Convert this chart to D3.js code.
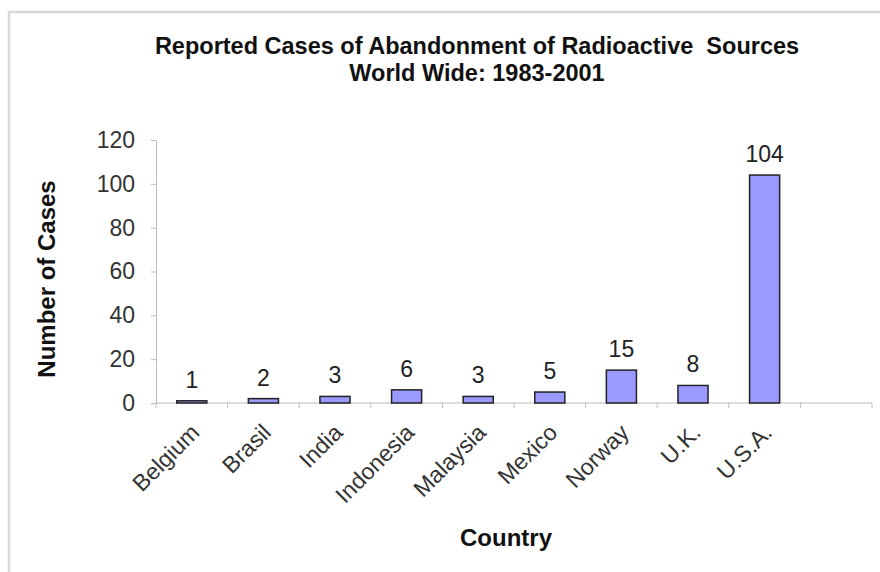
<!DOCTYPE html>
<html><head><meta charset="utf-8">
<script src="https://cdn.jsdelivr.net/npm/d3@7"></script>
<style>body{margin:0;background:#fff;}</style>
</head><body>
<script>
const categories = ["Belgium","Brasil","India","Indonesia","Malaysia","Mexico","Norway","U.K.","U.S.A.",""];
const values = [1,2,3,6,3,5,15,8,104];
const yTicks = [0,20,40,60,80,100,120];
const titleLines = ["Reported Cases of Abandonment of Radioactive  Sources","World Wide: 1983-2001"];

const W=880,H=572;
const svg=d3.select("body").append("svg").attr("width",W).attr("height",H);
svg.append("rect").attr("x",9).attr("y",12).attr("width",W).attr("height",H).attr("fill","#fff").attr("stroke","#d8d8d8").attr("stroke-width",2.5);

const x=d3.scaleBand().domain(categories.map((c,i)=>i)).range([156,872]).paddingInner(0.58).paddingOuter(0.29);
const xb=d3.scaleBand().domain(categories.map((c,i)=>i)).range([156,872]);
const y=d3.scaleLinear().domain([0,120]).range([403,140]);
const font="Liberation Sans, Arial, sans-serif";

svg.selectAll(".t").data(titleLines).enter().append("text")
 .attr("x",477).attr("y",(d,i)=>54+i*27).attr("text-anchor","middle")
 .attr("font-family",font).attr("font-weight","bold").attr("font-size",23.5).attr("fill","#111")
 .attr("xml:space","preserve").text(d=>d);

// y axis
const ya=svg.append("g").attr("transform","translate(156,0)").call(d3.axisLeft(y).tickValues(yTicks).tickSize(5).tickPadding(16));
ya.select(".domain").attr("stroke","#bbb");
ya.selectAll("line").attr("stroke","#bbb");
ya.selectAll("text").attr("font-family",font).attr("font-size",23).attr("fill","#333");

// x axis
const xa=svg.append("g").attr("transform","translate(0,403)");
xa.append("line").attr("x1",156).attr("x2",872).attr("stroke","#bbb");
xa.selectAll(".tk").data(categories.map((c,i)=>i).concat([categories.length])).enter().append("line")
 .attr("x1",d=>156+d*xb.bandwidth()).attr("x2",d=>156+d*xb.bandwidth()).attr("y1",0).attr("y2",5).attr("stroke","#bbb");
xa.selectAll(".lb").data(categories).enter().append("text")
 .attr("transform",(d,i)=>`translate(${xb(i)+xb.bandwidth()/2+9},${31}) rotate(-45)`)
 .attr("text-anchor","end").attr("font-family",font).attr("font-size",23).attr("fill","#333").text(d=>d);

// bars
svg.selectAll(".bar").data(values).enter().append("rect")
 .attr("x",(d,i)=>x(i)).attr("width",x.bandwidth())
 .attr("y",d=>y(d)).attr("height",d=>y(0)-y(d))
 .attr("fill","#9999ff").attr("stroke","#222").attr("stroke-width",1.5);

svg.selectAll(".vl").data(values).enter().append("text")
 .attr("x",(d,i)=>x(i)+x.bandwidth()/2).attr("y",d=>y(d)-13).attr("text-anchor","middle")
 .attr("font-family",font).attr("font-size",23).attr("fill","#222").text(d=>d);

svg.append("text").attr("transform","translate(55,279) rotate(-90)").attr("text-anchor","middle")
 .attr("font-family",font).attr("font-weight","bold").attr("font-size",24).attr("fill","#111").text("Number of Cases");
svg.append("text").attr("x",506).attr("y",546).attr("text-anchor","middle")
 .attr("font-family",font).attr("font-weight","bold").attr("font-size",24).attr("fill","#111").text("Country");
</script>
</body></html>
